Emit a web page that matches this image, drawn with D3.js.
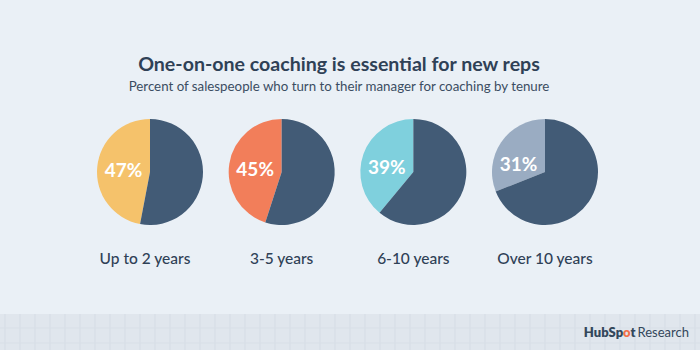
<!DOCTYPE html>
<html><head><meta charset="utf-8">
<script src="https://cdn.jsdelivr.net/npm/d3@7"></script>
<style>html,body{margin:0;padding:0;background:#eaf0f6;}svg{display:block;}</style>
</head><body>
<svg id="c" width="700" height="350"></svg>
<script>
const categories = ["Up to 2 years", "3-5 years", "6-10 years", "Over 10 years"];
const percents = [47, 45, 39, 31];
const sliceColors = ["#f5c26b", "#f27e5a", "#7fd0dd", "#9aacc2"];
const restColor = "#425b76";
const title = "One-on-one coaching is essential for new reps";
const subtitle = "Percent of salespeople who turn to their manager for coaching by tenure";

const W = 700, H = 350;
const svg = d3.select("#c");
svg.append("rect").attr("width", W).attr("height", H).attr("fill", "#eaf0f6");

// footer strip with grid
const stripY = 314;
svg.append("rect").attr("x", 0).attr("y", stripY).attr("width", W).attr("height", H - stripY).attr("fill", "#e0e6ed");
const gx = d3.range(0, W + 1, 15);
svg.append("g").selectAll("line").data(gx).join("line")
  .attr("x1", d => d + 5).attr("x2", d => d + 5).attr("y1", stripY).attr("y2", H)
  .attr("stroke", "#d5dce5").attr("stroke-width", 1);
svg.append("g").selectAll("line").data([stripY + 14, stripY + 29]).join("line")
  .attr("x1", 0).attr("x2", W).attr("y1", d => d).attr("y2", d => d)
  .attr("stroke", "#d8dfe7").attr("stroke-width", 1);

svg.append("text").attr("x", 339).attr("y", 71).attr("text-anchor", "middle")
  .attr("font-family", "Lato").attr("font-weight", 700).attr("font-size", 19.6)
  .attr("fill", "#2f4156").text(title);
svg.append("text").attr("x", 339).attr("y", 91).attr("text-anchor", "middle")
  .attr("font-family", "Lato").attr("font-weight", 400).attr("font-size", 13.3)
  .attr("fill", "#3b4d62").text(subtitle);

const x = d3.scalePoint().domain(categories).range([150, 545]);
const R = 53, cy = 172;
const pie = d3.pie().sort(null).value(d => d.v).startAngle(0).endAngle(-2 * Math.PI);
const arc = d3.arc().innerRadius(0).outerRadius(R);

categories.forEach((c, i) => {
  const g = svg.append("g").attr("transform", `translate(${x(c)},${cy})`);
  const data = [{v: percents[i], col: sliceColors[i]}, {v: 100 - percents[i], col: restColor}];
  const arcs = pie(data);
  g.selectAll("path").data(arcs).join("path").attr("d", arc).attr("fill", d => d.data.col);
  const cen = arc.centroid(arcs[0]);
  g.append("text").attr("x", -R * 0.5).attr("y", cen[1] * 0.5 + 6.5)
    .attr("text-anchor", "middle").attr("font-family", "Lato").attr("font-weight", 700)
    .attr("font-size", 19).attr("fill", "#ffffff").text(percents[i] + "%");
  svg.append("text").attr("x", x(c) - (i === 0 ? 5 : 0)).attr("y", 264).attr("text-anchor", "middle")
    .attr("font-family", "Lato").attr("font-weight", 500).attr("font-size", 15.5)
    .attr("fill", "#2f4156").text(c);
});

// logo
const logo = svg.append("text").attr("x", 689).attr("y", 337).attr("text-anchor", "end")
  .attr("font-family", "Lato").attr("font-size", 13).attr("fill", "#33475b");
logo.append("tspan").attr("font-weight", 800).text("HubSp");
logo.append("tspan").attr("font-weight", 800).attr("fill", "#f2714a").text("o");
logo.append("tspan").attr("font-weight", 800).text("t");
logo.append("tspan").attr("font-weight", 400).attr("dx", 2).text("Research");
</script>
</body></html>
